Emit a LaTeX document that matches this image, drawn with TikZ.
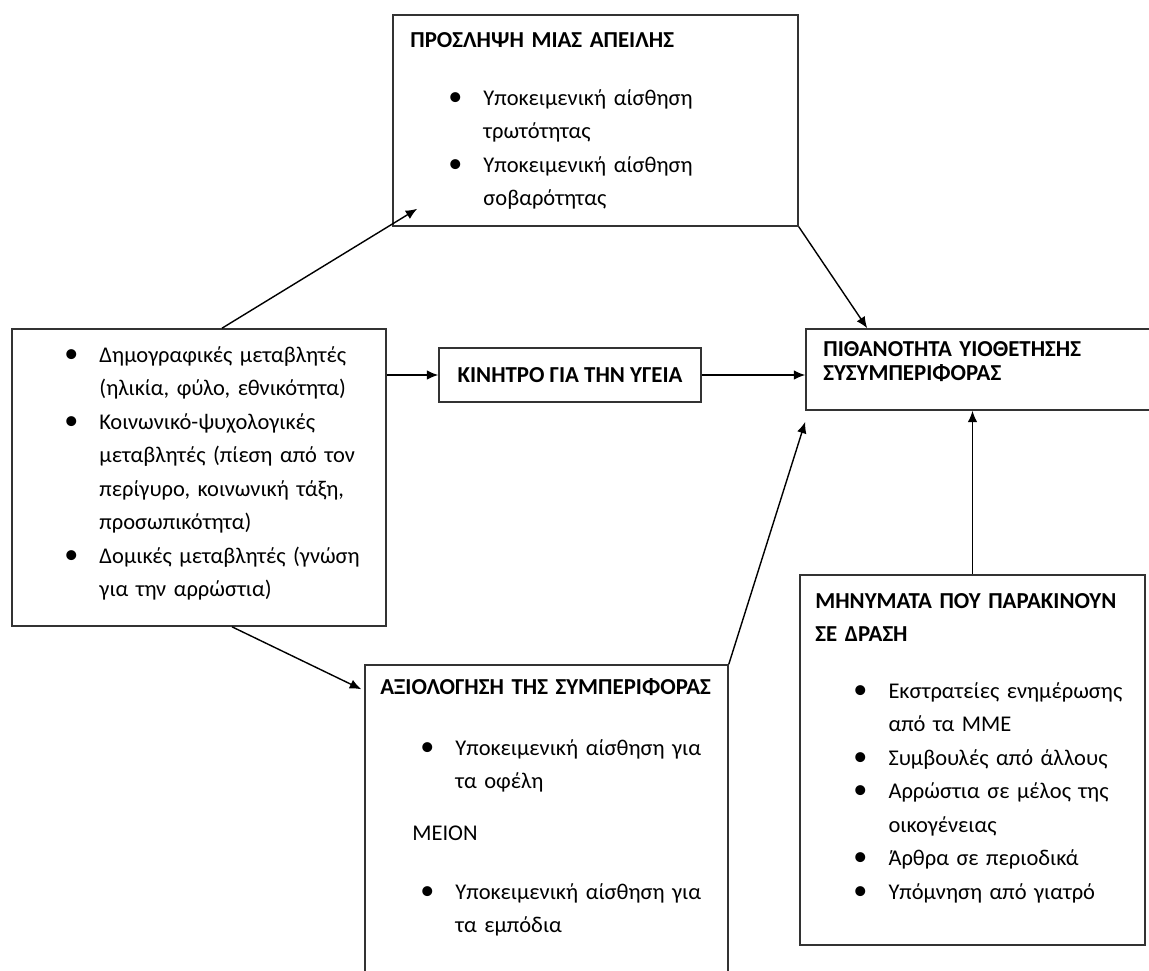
\documentclass[tikz,border=0pt]{standalone}
\usepackage{fontspec}
\setmainfont{Carlito}
\usetikzlibrary{arrows.meta,fit}
\newcommand{\itm}{\makebox[20pt][l]{\scalebox{1.25}{\textbullet}}}
\newcommand{\cnt}{\hspace*{20pt}}

\begin{document}
\begin{tikzpicture}[x=0.02cm,y=-0.02cm]
  \tikzstyle{box}=[draw=black!80,line width=0.9pt,inner sep=0pt]
  \tikzstyle{txt}=[anchor=base west,inner sep=0pt,align=left,text width=8cm,font=\fontsize{12.8}{19.1}\selectfont]
  \tikzstyle{head}=[txt,font=\fontsize{13}{19.1}\selectfont\bfseries]
  \tikzstyle{line}=[draw,line width=0.8pt,-{Latex[length=6.5pt,width=5.5pt]}]
  \useasboundingbox (0,0) rectangle (1149,970);
  \clip (0,0) rectangle (1149,970);
  % boxes
  \node[box,fit={(393,15) (798,226)}] (thr) {};
  \node[box,fit={(12,329) (386,626)}] (dem) {};
  \node[box,minimum width=5.24cm,minimum height=1.08cm,font=\fontsize{13}{14}\selectfont\bfseries] (mot) at (570,375) {ΚΙΝΗΤΡΟ ΓΙΑ ΤΗΝ ΥΓΕΙΑ};
  \node[box,fit={(806,329) (1170,410)}] (lik) {};
  \node[box,fit={(365,665) (728,990)}] (eva) {};
  \node[box,fit={(800,575) (1145,945)}] (msg) {};
  % threat
  \node[head] (thrtitle) at (410,47) {ΠΡΟΣΛΗΨΗ ΜΙΑΣ ΑΠΕΙΛΗΣ};
  \node[txt] (thrlist) at (448,105) {\itm Υποκειμενική αίσθηση\\
    \cnt τρωτότητας\\
    \itm Υποκειμενική αίσθηση\\
    \cnt σοβαρότητας};
  % variables
  \node[txt] (demlist) at (64,362) {\itm Δημογραφικές μεταβλητές\\
    \cnt (ηλικία, φύλο, εθνικότητα)\\
    \itm Κοινωνικό-ψυχολογικές\\
    \cnt μεταβλητές (πίεση από τον\\
    \cnt περίγυρο, κοινωνική τάξη,\\
    \cnt προσωπικότητα)\\
    \itm Δομικές μεταβλητές (γνώση\\
    \cnt για την αρρώστια)};
  % likelihood
  \node[head,font=\fontsize{13}{14.2}\selectfont\bfseries] (liktitle) at (823,356) {ΠΙΘΑΝΟΤΗΤΑ ΥΙΟΘΕΤΗΣΗΣ\\ΣΥΣΥΜΠΕΡΙΦΟΡΑΣ};
  % cues
  \node[head,font=\fontsize{13}{18.8}\selectfont\bfseries] (msgtitle) at (815,608) {ΜΗΝΥΜΑΤΑ ΠΟΥ ΠΑΡΑΚΙΝΟΥΝ\\ΣΕ ΔΡΑΣΗ};
  \node[txt] (msglist) at (853,698) {\itm Εκστρατείες ενημέρωσης\\
    \cnt από τα ΜΜΕ\\
    \itm Συμβουλές από άλλους\\
    \itm Αρρώστια σε μέλος της\\
    \cnt οικογένειας\\
    \itm Άρθρα σε περιοδικά\\
    \itm Υπόμνηση από γιατρό};
  % evaluation
  \node[head] (evatitle) at (380,694) {ΑΞΙΟΛΟΓΗΣΗ ΤΗΣ ΣΥΜΠΕΡΙΦΟΡΑΣ};
  \node[txt] (evaben) at (420,755) {\itm Υποκειμενική αίσθηση για\\
    \cnt τα οφέλη};
  \node[txt] (evaminus) at (412,840) {ΜΕΙΟΝ};
  \node[txt] (evabar) at (420,899) {\itm Υποκειμενική αίσθηση για\\
    \cnt τα εμπόδια};
  % arrows
  \path[line] ([shift={(23,0)}]dem.north) -- ([shift={(25,-18)}]thr.south west);
  \path[line] (mot.west -| dem.east) -- (mot.west);
  \path[line] (mot.east) -- (mot.east -| lik.west);
  \path[line] (thr.south east) -- ([shift={(62,0)}]lik.north west);
  \path[line] ([shift={(33,0)}]dem.south) -- ([shift={(-3,25)}]eva.north west);
  \path[line] (eva.north east) -- ([shift={(0,11)}]lik.south west);
  \path[line] (msg.north) -- (msg.north |- lik.south);
\end{tikzpicture}
\end{document}
